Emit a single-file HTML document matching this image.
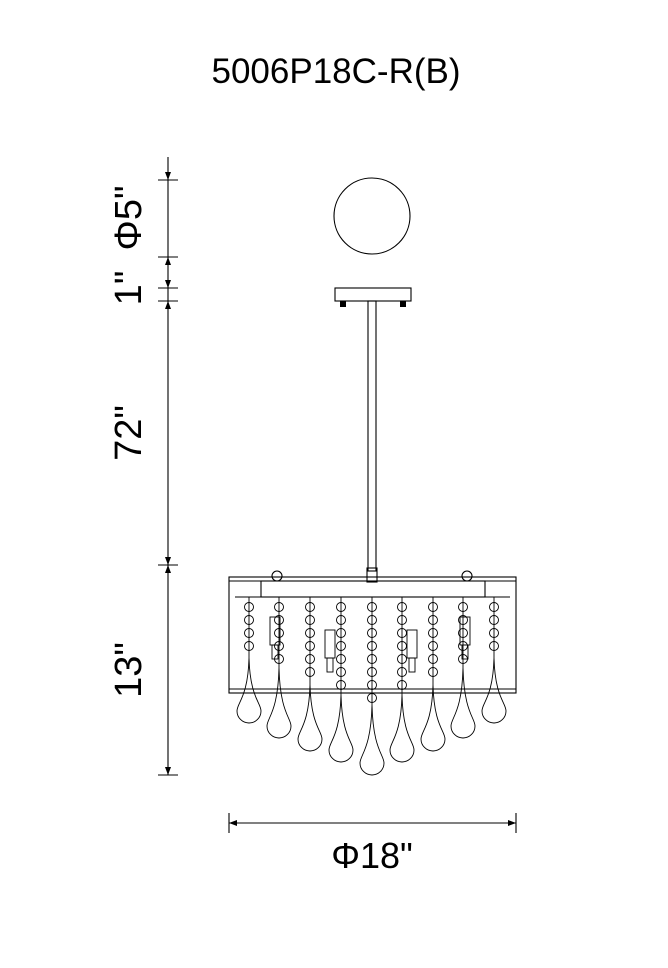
<!DOCTYPE html>
<html><head><style>
html,body{margin:0;padding:0;background:#fff;width:668px;height:968px;overflow:hidden}
svg{position:absolute;left:0;top:0}
text{font-family:"Liberation Sans",Arial,sans-serif;fill:#000}
</style></head><body>
<svg id="s" width="668" height="968" viewBox="0 0 668 968">
<text x="336" y="83" font-size="35" text-anchor="middle">5006P18C-R(B)</text>
<g stroke="#000" stroke-width="1.1" fill="none">
<line x1="168" y1="157" x2="168" y2="775"/>
<line x1="158" y1="180" x2="178" y2="180"/>
<line x1="158" y1="257" x2="178" y2="257"/>
<line x1="158" y1="288" x2="178" y2="288"/>
<line x1="158" y1="301" x2="178" y2="301"/>
<line x1="158" y1="565" x2="178" y2="565"/>
<line x1="158" y1="775" x2="178" y2="775"/>
<line x1="229" y1="823" x2="516" y2="823"/>
<line x1="229" y1="813" x2="229" y2="833"/>
<line x1="516" y1="813" x2="516" y2="833"/>
<circle cx="372" cy="216" r="38"/>
<rect x="335" y="288" width="76" height="13"/>
<rect x="368" y="301" width="8" height="270"/>
<rect x="367" y="568" width="10" height="14"/>
<rect x="229" y="577" width="287" height="116"/>
<line x1="229" y1="581" x2="516" y2="581"/>
<line x1="229" y1="689" x2="516" y2="689"/>
<rect x="261" y="581" width="224" height="16"/>
<circle cx="277" cy="576" r="5"/>
<circle cx="467" cy="576" r="5"/>
</g>
<g fill="#000">
<rect x="340" y="301" width="6" height="6"/><rect x="400" y="301" width="6" height="6"/>
<polygon points="165,172 171,172 168,180"/>
<polygon points="165,265 171,265 168,257"/>
<polygon points="165,280 171,280 168,288"/>
<polygon points="165,309 171,309 168,301"/>
<polygon points="165,557 171,557 168,565"/>
<polygon points="165,573 171,573 168,565"/>
<polygon points="165,767 171,767 168,775"/>
<polygon points="237,820 237,826 229,823"/>
<polygon points="508,820 508,826 516,823"/>
</g>
<g id="ch" stroke="#000" stroke-width="0.9" fill="none"></g>
<text transform="translate(141,218) rotate(-90)" font-size="38" text-anchor="middle">Φ5"</text>
<text transform="translate(141,288) rotate(-90)" font-size="38" text-anchor="middle">1"</text>
<text transform="translate(141,433) rotate(-90)" font-size="38" text-anchor="middle">72"</text>
<text transform="translate(141,670) rotate(-90)" font-size="38" text-anchor="middle">13"</text>
<text x="372" y="868" font-size="36" text-anchor="middle">Φ18"</text>
</svg>
<script>
var g=document.getElementById('ch'),h='';
var xs=[249,279,310,341,372,402,433,463,494],be=[658,668,685,695,705,695,685,668,658],db=[723,738,751,762,775,762,751,738,723];
for(var i=0;i<9;i++){var x=xs[i];h+='<line x1="'+x+'" y1="597" x2="'+x+'" y2="'+be[i]+'"/>';
for(var y=607;y<be[i]-4;y+=13)h+='<circle cx="'+x+'" cy="'+y+'" r="4.5"/>';
var r=12,cy=db[i]-r;h+='<path d="M'+x+' '+be[i]+' C'+(x+1)+' '+(cy-14)+' '+(x+r)+' '+(cy-8)+' '+(x+r)+' '+cy+' A'+r+' '+r+' 0 1 1 '+(x-r)+' '+cy+' C'+(x-r)+' '+(cy-8)+' '+(x-1)+' '+(cy-14)+' '+x+' '+be[i]+'"/>';}
[[275,617],[330,630],[412,630],[465,617]].forEach(function(p){h+='<rect x="'+(p[0]-5)+'" y="'+p[1]+'" width="10" height="28"/><rect x="'+(p[0]-3)+'" y="'+(p[1]+28)+'" width="6" height="14"/>';});
h+='<line x1="235" y1="597" x2="261" y2="597"/><line x1="485" y1="597" x2="510" y2="597"/>';
g.innerHTML=h;
</script>
</body></html>
